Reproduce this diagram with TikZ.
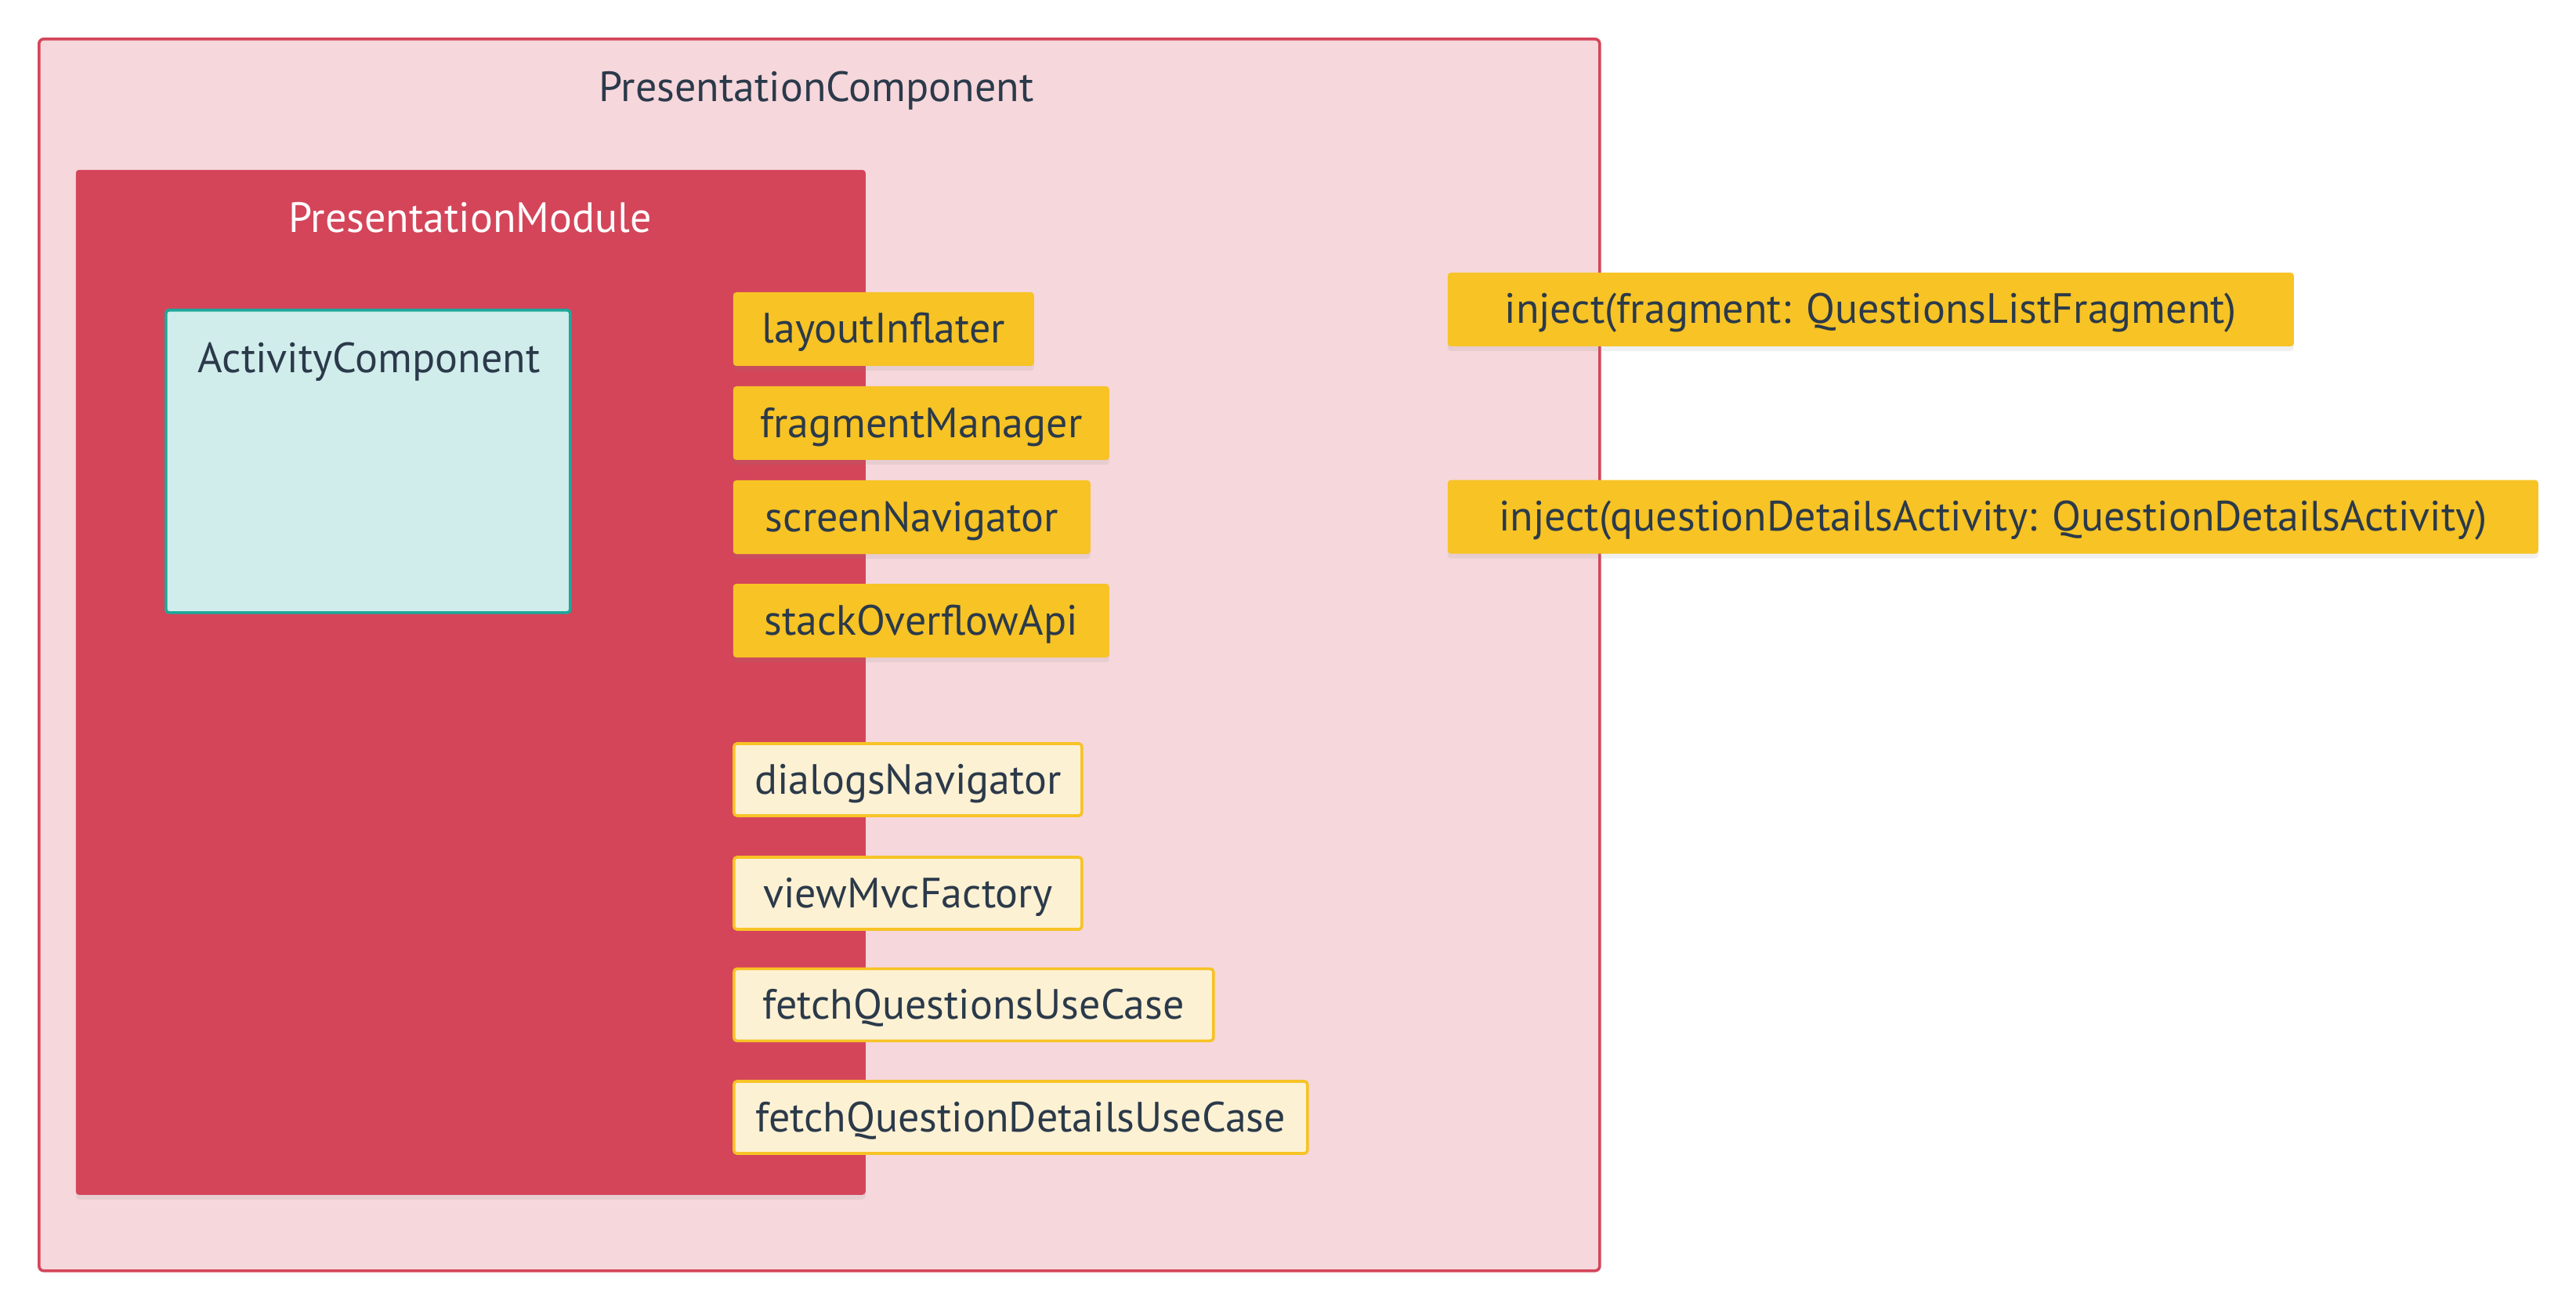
\documentclass[tikz,border=0pt]{standalone}
\usepackage{fontspec}
\setmainfont{PT Sans}
\usepackage{xcolor}
\usetikzlibrary{shadows}

\definecolor{pinkbg}{HTML}{F6D7DC}
\definecolor{modred}{HTML}{D4455A}
\definecolor{tealbg}{HTML}{D0ECEB}
\definecolor{tealline}{HTML}{1BA99A}
\definecolor{depyellow}{HTML}{F7C325}
\definecolor{softyellow}{HTML}{FDF1D3}
\definecolor{inktext}{HTML}{2B3A4A}

\begin{document}
\begin{tikzpicture}[x=1pt,y=-1pt]
\tikzset{every node/.style={font=\fontsize{13.5}{16}\selectfont,text=inktext,inner sep=0pt}}
\tikzset{compbox/.style={draw=modred,line width=0.9pt,fill=pinkbg,rounded corners=1.5pt,anchor=north west}}
\tikzset{modbox/.style={fill=modred,rounded corners=1pt,anchor=north west,drop shadow={opacity=0.12,shadow xshift=0pt,shadow yshift=-1.5pt}}}
\tikzset{actbox/.style={draw=tealline,line width=0.9pt,fill=tealbg,rounded corners=1pt,anchor=north west}}
\tikzset{dep/.style={fill=depyellow,rounded corners=1pt,anchor=west,minimum height=23.5pt,text height=11.5pt,text depth=2.5pt,drop shadow={opacity=0.12,shadow xshift=0pt,shadow yshift=-1.5pt}}}
\tikzset{softdep/.style={draw=depyellow,line width=0.9pt,fill=softyellow,rounded corners=1pt,anchor=west,minimum height=23pt,text height=11.5pt,text depth=2.5pt}}

\useasboundingbox (0,0) rectangle (822,417);

% outer component
\node[compbox,minimum width=498pt,minimum height=393pt] (presComp) at (12,12) {};
\node (presCompTitle) at (260.5,29) {PresentationComponent};

% module
\node[modbox,minimum width=252pt,minimum height=327pt] (presModule) at (24,54) {};
\node[text=white] (presModuleTitle) at (150,69.5) {PresentationModule};

% subcomponent
\node[actbox,minimum width=129pt,minimum height=96.5pt] (actComp) at (52.5,98.5) {};
\node[anchor=west] (actCompTitle) at (63,115.5) {ActivityComponent};

% provided by module
\node[dep,minimum width=96pt] (layoutInflater) at (233.75,105) {layoutInflater};
\node[dep,minimum width=120pt] (fragmentManager) at (233.75,135) {fragmentManager};
\node[dep,minimum width=114pt] (screenNavigator) at (233.75,165) {screenNavigator};
\node[dep,minimum width=120pt] (stackOverflowApi) at (233.75,198) {stackOverflowApi};

% constructed
\node[softdep,minimum width=111pt] (dialogsNavigator) at (233.75,248.75) {dialogsNavigator};
\node[softdep,minimum width=111pt] (viewMvcFactory) at (233.75,285) {viewMvcFactory};
\node[softdep,minimum width=153pt] (fetchQuestionsUseCase) at (233.75,320.6) {fetchQuestionsUseCase};
\node[softdep,minimum width=183pt] (fetchQuestionDetailsUseCase) at (233.75,356.5) {fetchQuestionDetailsUseCase};

% injection targets
\node[dep,minimum width=270pt] (injectFragment) at (461.75,98.75) {inject(fragment: QuestionsListFragment)};
\node[dep,minimum width=348pt] (injectActivity) at (461.75,164.9) {inject(questionDetailsActivity: QuestionDetailsActivity)};

\end{tikzpicture}
\end{document}
